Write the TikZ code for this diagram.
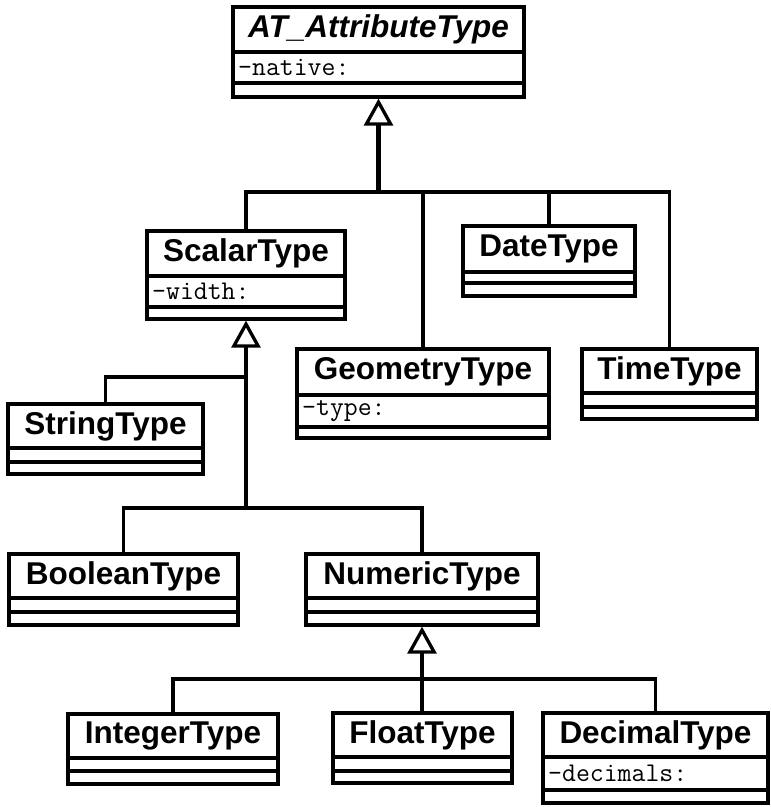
\documentclass[tikz,border=0pt]{standalone}
\usepackage{fontspec}
\setmainfont{Liberation Sans}
\usetikzlibrary{arrows.meta}

\tikzset{
  classbox/.style={draw, line width=3.3pt, inner sep=0pt, fill=white},
  classsep/.style={line width=3.3pt},
  titletext/.style={inner sep=0pt, font=\fontsize{31.5}{31.5}\selectfont\bfseries},
  attrtext/.style={inner sep=0pt, anchor=west, font=\ttfamily\fontsize{27}{27}\selectfont},
  link/.style={line width=3.2pt},
  gen/.style={line width=4.3pt,
    -{Triangle[length=27pt, width=29pt, fill=white, line width=3.3pt]}},
}

% \umlclass{name}{left}{top}{right}{bottom}{sep1}{sep2}{title}{attribute}
\newcommand{\umlclass}[9]{%
  \node[classbox, minimum width={#4-#2}, minimum height={#5-#3}]
    (#1) at ({(#2+#4)/2},{(#3+#5)/2}) {};
  \draw[classsep] (#1.west |- 0,#6) -- (#1.east |- 0,#6);
  \draw[classsep] (#1.west |- 0,#7) -- (#1.east |- 0,#7);
  \node[titletext] (#1-title) at ({(#2+#4)/2},{(#3+#6)/2}) {#8};
  \node[attrtext] (#1-attr) at ({#2+5},{(#6+#7)/2}) {#9};
}

\begin{document}
\begin{tikzpicture}[x=1pt, y=-1pt]
\useasboundingbox (0,0) rectangle (771,807);

% classes
\umlclass{at}{233}{7}{524}{97}{52}{83}{\itshape AT\_AttributeType}{-native:}
\umlclass{scalar}{147}{231}{345}{319}{276}{307}{ScalarType}{-width:}
\umlclass{date}{463}{226}{635}{296}{272}{283}{DateType}{}
\umlclass{geom}{297}{349}{549}{438}{395}{427}{GeometryType}{-type:}
\umlclass{time}{582}{349}{757}{419}{393}{407}{TimeType}{}
\umlclass{string}{8}{404}{203}{474}{448}{462}{StringType}{}
\umlclass{bool}{9}{554}{238}{625}{598}{612}{BooleanType}{}
\umlclass{numeric}{306}{554}{538}{625}{598}{612}{NumericType}{}
\umlclass{integer}{68}{714}{278}{784}{758}{771}{IntegerType}{}
\umlclass{float}{333}{713}{512}{783}{757}{771}{FloatType}{}
\umlclass{decimal}{543}{713}{768}{803}{757}{790}{DecimalType}{-decimals:}

% generalisations of AT_AttributeType
\coordinate (busTop) at (at.south |- 0,192);
\draw[link] (scalar.north) |- (busTop) -| (time.north);
\draw[link] (geom.north) -- (geom.north |- busTop);
\draw[link] (date.north) -- (date.north |- busTop);
\draw[gen] (busTop) -- (at.south);

% generalisations of ScalarType
\coordinate (busS1) at (scalar.south |- 0,377);
\coordinate (busS2) at (scalar.south |- 0,508);
\draw[link] (string.north) |- (busS1);
\draw[link] (bool.north) |- (busS2) -| (numeric.north);
\draw[gen] (busS2) -- (scalar.south);

% generalisations of NumericType
\coordinate (busN) at (numeric.south |- 0,679);
\draw[link] (integer.north) |- (busN) -| (decimal.north);
\draw[gen] (numeric.south |- float.north) -- (numeric.south);
\end{tikzpicture}
\end{document}
